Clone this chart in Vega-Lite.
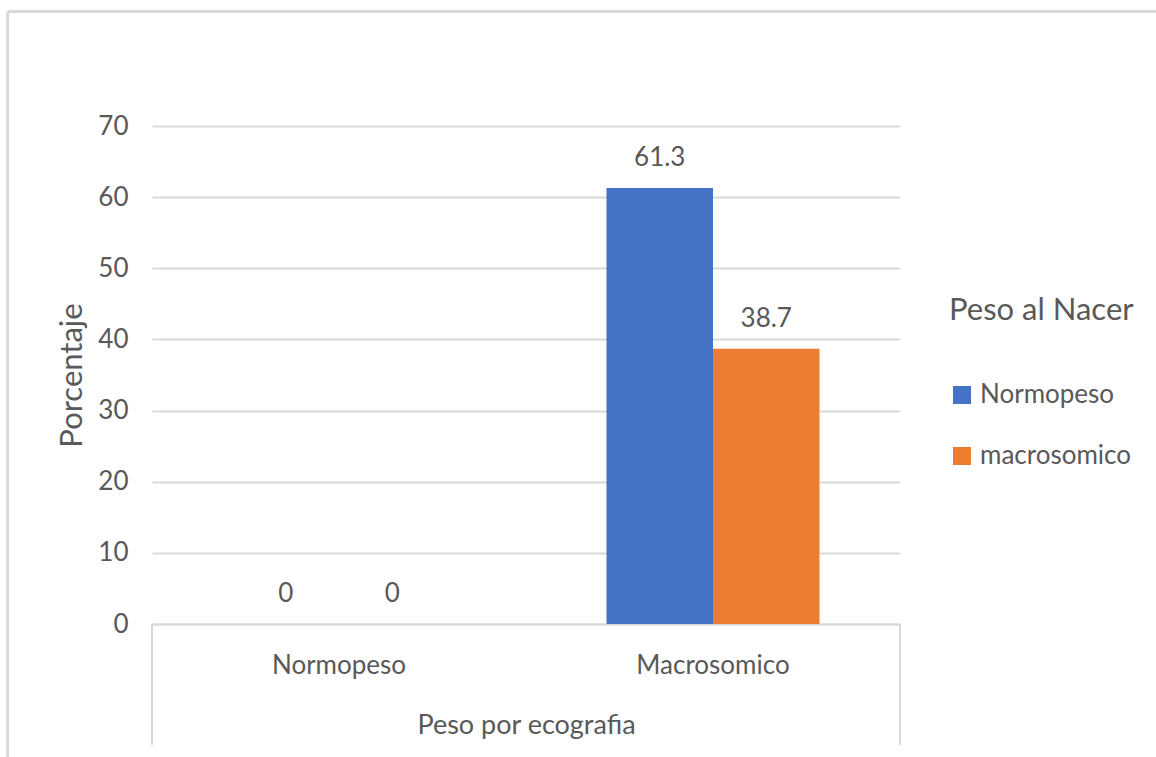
{
  "$schema": "https://vega.github.io/schema/vega-lite/v6.json",
  "width": 748,
  "height": 498,
  "autosize": {"type": "none"},
  "padding": {"left": 152, "top": 126, "right": 256, "bottom": 133},
  "background": "white",
  "config": {
    "view": {"stroke": null},
    "font": "Lato",
    "text": {"font": "Lato"}
  },
  "data": {
    "values": [
      {"eco": "Normopeso", "nacer": "Normopeso", "pct": 0},
      {"eco": "Normopeso", "nacer": "macrosomico", "pct": 0},
      {"eco": "Macrosomico", "nacer": "Normopeso", "pct": 61.3},
      {"eco": "Macrosomico", "nacer": "macrosomico", "pct": 38.7}
    ]
  },
  "layer": [
    {
      "mark": {"type": "bar"},
      "encoding": {
        "x": {
          "field": "eco",
          "type": "nominal",
          "scale": {"domain": ["Normopeso", "Macrosomico"], "paddingInner": 0, "paddingOuter": 0},
          "axis": {
            "title": "Peso por ecografia",
            "labelAngle": 0,
            "labelAlign": "center",
            "labelFontSize": 26,
            "labelColor": "#595959",
            "labelPadding": 28,
            "ticks": false,
            "tickSize": 0,
            "domainColor": "#d9d9d9",
            "domainWidth": 2,
            "titleFontSize": 27,
            "titleFontWeight": "normal",
            "titleColor": "#595959",
            "titlePadding": 34
          }
        },
        "xOffset": {
          "field": "nacer",
          "type": "nominal",
          "scale": {"domain": ["Normopeso", "macrosomico"], "paddingInner": 0, "paddingOuter": 0.756}
        },
        "y": {
          "field": "pct",
          "type": "quantitative",
          "stack": null,
          "scale": {"domain": [0, 70], "nice": false},
          "axis": {
            "title": "Porcentaje",
            "values": [0, 10, 20, 30, 40, 50, 60, 70],
            "grid": true,
            "gridColor": "#d9d9d9",
            "gridWidth": 2,
            "domain": false,
            "ticks": false,
            "tickSize": 0,
            "labelPadding": 24,
            "labelFontSize": 26,
            "labelColor": "#595959",
            "titleFontSize": 31,
            "titleFontWeight": "normal",
            "titleColor": "#595959",
            "titlePadding": 9
          }
        },
        "color": {
          "field": "nacer",
          "type": "nominal",
          "scale": {"domain": ["Normopeso", "macrosomico"], "range": ["#4472C4", "#ED7D31"]},
          "legend": {
            "orient": "none",
            "legendX": 797,
            "legendY": 170,
            "title": "Peso al Nacer",
            "titleFontSize": 31,
            "titleFontWeight": "normal",
            "titleColor": "#595959",
            "titleBaseline": "top",
            "titleLimit": 400,
            "titlePadding": 55,
            "labelFontSize": 26,
            "labelColor": "#595959",
            "labelLimit": 400,
            "labelOffset": 5,
            "symbolType": "square",
            "symbolSize": 324,
            "symbolStrokeWidth": 0,
            "rowPadding": 35,
            "padding": 0
          }
        }
      }
    },
    {
      "mark": {"type": "text", "baseline": "alphabetic", "dy": -22, "fontSize": 26, "color": "#595959"},
      "encoding": {
        "x": {"field": "eco", "type": "nominal"},
        "xOffset": {"field": "nacer", "type": "nominal"},
        "y": {"field": "pct", "type": "quantitative", "stack": null},
        "text": {"field": "pct", "type": "quantitative", "format": ""}
      }
    },
    {
      "data": {"values": [{}]},
      "mark": {"type": "rule", "color": "#d9d9d9", "strokeWidth": 3},
      "encoding": {
        "x": {"datum": "Normopeso", "type": "nominal", "bandPosition": -0.386},
        "x2": {"datum": "Macrosomico", "bandPosition": 1.7},
        "y": {"datum": 86.1, "type": "quantitative"}
      }
    },
    {
      "data": {"values": [{}]},
      "mark": {"type": "rule", "color": "#d9d9d9", "strokeWidth": 3},
      "encoding": {
        "x": {"datum": "Normopeso", "type": "nominal", "bandPosition": -0.386},
        "y": {"datum": 86.1, "type": "quantitative"},
        "y2": {"datum": -19}
      }
    },
    {
      "data": {"values": [{}]},
      "mark": {"type": "rule", "color": "#d9d9d9", "strokeWidth": 2},
      "encoding": {
        "x": {"datum": "Normopeso", "type": "nominal", "bandPosition": 0},
        "y": {"datum": 0, "type": "quantitative"},
        "y2": {"datum": -17}
      }
    },
    {
      "data": {"values": [{}]},
      "mark": {"type": "rule", "color": "#d9d9d9", "strokeWidth": 2},
      "encoding": {
        "x": {"datum": "Macrosomico", "type": "nominal", "bandPosition": 1},
        "y": {"datum": 0, "type": "quantitative"},
        "y2": {"datum": -17}
      }
    }
  ]
}
